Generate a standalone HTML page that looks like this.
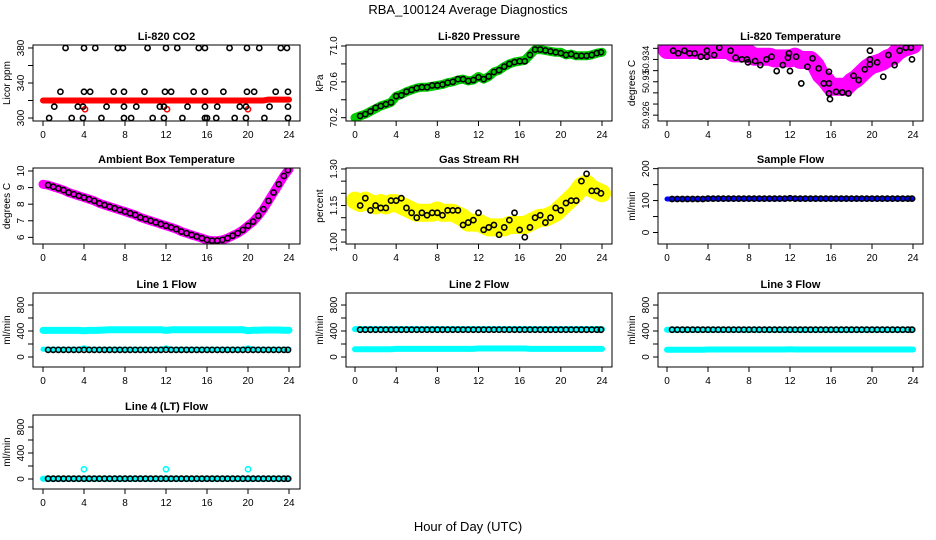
<!DOCTYPE html>
<html><head><meta charset="utf-8">
<style>
html,body{margin:0;padding:0;background:#fff;}
svg{display:block;font-family:"Liberation Sans",Arial,sans-serif;}
</style></head>
<body>
<svg id="chart" width="936" height="540" viewBox="0 0 936 540" xmlns="http://www.w3.org/2000/svg">
<text x="468" y="14" text-anchor="middle" font-size="13">RBA_100124  Average Diagnostics</text>
<text x="468" y="531" text-anchor="middle" font-size="13">Hour of Day (UTC)</text>
</svg>
<script>
// ---- data ----
const hoursBlack = [0.5,1,1.5,2,2.5,3,3.5,4,4.5,5,5.5,6,6.5,7,7.5,8,8.5,9,9.5,10,10.5,11,11.5,12,12.5,13,13.5,14,14.5,15,15.5,16,16.5,17,17.5,18,18.5,19,19.5,20,20.5,21,21.5,22,22.5,23,23.5,23.9];
const hoursBand = [0,0.5,1,1.5,2,2.5,3,3.5,4,4.5,5,5.5,6,6.5,7,7.5,8,8.5,9,9.5,10,10.5,11,11.5,12,12.5,13,13.5,14,14.5,15,15.5,16,16.5,17,17.5,18,18.5,19,19.5,20,20.5,21,21.5,22,22.5,23,23.5,24];
const xTicks = [0,4,8,12,16,20,24];

const co2BlackT = [2.2,4,5.1,7.3,7.8,10.2,12,13.1,15.2,15.8,18.2,19.9,21.1,23.2,23.8, 1.7,4,4.6,6.9,7.9,9.9,11.9,12.5,14.7,15.8,17.6,19.9,20.6,22.7,23.9, 1.1,3.4,3.9,6.2,7.9,9.1,11.4,11.8,14.1,15.8,17,19.2,19.8,22.1,23.9, 0.6,2.8,3.9,5.7,7.9,8.6,10.7,11.8,13.6,15.8,16,16.9,18.7,19.8,21.6,23.9];
const co2BlackV = [380,380,380,380,380,380,380,380,380,380,380,380,380,380,380, 330,330,330,330,330,330,330,330,330,330,330,330,330,330,330, 313,313,313,313,313,313,313,313,313,313,313,313,313,313,313, 300,300,300,300,300,300,300,300,300,300,300,300,300,300,300,300];
const co2Band = [320,320,320,320,320,320,320,320,320,320,320,320,320,320,320,320,320,320,320,320,320,320,320,320,320,320,320,320,320,320,320,320,320,320,320,320,320,320,320,320,320,320,320,320,321,321,321,321,321];
const co2RedOutT = [4.1,12.1,20];
const co2RedOutV = [310,310,310];

const presBlack = [70.22,70.24,70.27,70.31,70.33,70.35,70.37,70.44,70.45,70.49,70.51,70.53,70.54,70.54,70.56,70.56,70.57,70.59,70.60,70.63,70.63,70.61,70.62,70.65,70.63,70.66,70.71,70.73,70.77,70.80,70.82,70.83,70.83,70.90,70.96,70.96,70.95,70.94,70.93,70.92,70.90,70.91,70.89,70.89,70.89,70.90,70.92,70.93];
const presBand = [70.20,70.22,70.24,70.27,70.30,70.33,70.35,70.37,70.44,70.46,70.49,70.51,70.53,70.54,70.54,70.55,70.56,70.57,70.59,70.60,70.62,70.63,70.61,70.62,70.66,70.63,70.66,70.71,70.73,70.77,70.80,70.82,70.83,70.84,70.90,70.96,70.96,70.95,70.94,70.93,70.93,70.90,70.91,70.89,70.89,70.89,70.90,70.92,70.93];

const tempBlackT = [0.6,1.1,1.7,2.2,2.7,3.3,3.9,3.9,4.6,5.1,6.2,6.7,7.3,7.8,7.9,8.6,9.1,9.7,10.2,10.7,11.3,11.8,11.9,12,12.6,13.1,13.7,14.2,14.8,15.3,15.8,15.8,15.8,15.9,16.5,17.1,17.7,18.2,18.7,19.3,19.8,19.8,19.8,20.5,21.1,21.6,22.2,22.7,23.3,23.8,23.9];
const tempBlack = [50.93372,50.9334,50.93372,50.9334,50.9334,50.9330,50.93372,50.9330,50.9332,50.93408,50.93372,50.93288,50.93268,50.93268,50.93232,50.93248,50.932,50.93268,50.9330,50.93128,50.932,50.93288,50.9334,50.93128,50.9330,50.9298,50.9318,50.9328,50.9316,50.9298,50.9298,50.9286,50.9312,50.92792,50.9288,50.92872,50.9286,50.93072,50.9302,50.93148,50.93208,50.93372,50.93268,50.93232,50.9306,50.9332,50.932,50.93372,50.93408,50.93408,50.93268];
const tempBand = [50.9338,50.9338,50.9338,50.9338,50.9338,50.9338,50.9338,50.9338,50.9338,50.9338,50.9338,50.9338,50.9338,50.9334,50.9334,50.9334,50.9334,50.9330,50.9330,50.9330,50.9330,50.9328,50.9328,50.9328,50.9328,50.9330,50.9326,50.9326,50.9326,50.9320,50.9308,50.9302,50.9294,50.9294,50.9294,50.9294,50.9300,50.9304,50.9310,50.9316,50.9320,50.9322,50.9324,50.9328,50.9330,50.9336,50.9340,50.9342,50.9344];

const ambBlack = [9.15,9.05,8.95,8.85,8.7,8.6,8.5,8.4,8.3,8.2,8.05,7.95,7.85,7.75,7.65,7.55,7.45,7.35,7.2,7.1,7.0,6.9,6.8,6.7,6.6,6.5,6.35,6.25,6.15,6.05,5.95,5.85,5.8,5.8,5.85,5.95,6.1,6.25,6.45,6.7,6.95,7.3,7.7,8.2,8.7,9.2,9.7,10.05];
const ambBand = [9.2,9.15,9.05,8.95,8.85,8.7,8.6,8.5,8.4,8.3,8.2,8.05,7.95,7.85,7.75,7.65,7.55,7.45,7.35,7.2,7.1,7.0,6.9,6.8,6.7,6.6,6.5,6.35,6.25,6.15,6.05,5.95,5.85,5.8,5.8,5.85,5.95,6.1,6.25,6.45,6.7,6.95,7.3,7.7,8.2,8.7,9.2,9.7,10.1];

const rhBlack = [1.15,1.18,1.13,1.15,1.14,1.14,1.17,1.17,1.18,1.14,1.12,1.10,1.12,1.11,1.12,1.12,1.11,1.13,1.13,1.13,1.07,1.08,1.09,1.12,1.05,1.06,1.07,1.03,1.06,1.09,1.12,1.05,1.02,1.06,1.10,1.11,1.08,1.10,1.14,1.13,1.16,1.17,1.17,1.25,1.28,1.21,1.21,1.20];
const rhBand = [1.17,1.16,1.17,1.16,1.15,1.16,1.15,1.16,1.16,1.15,1.14,1.13,1.12,1.12,1.12,1.12,1.13,1.12,1.12,1.12,1.11,1.10,1.08,1.08,1.08,1.07,1.06,1.06,1.06,1.06,1.07,1.07,1.07,1.07,1.08,1.09,1.10,1.10,1.11,1.12,1.14,1.16,1.18,1.20,1.23,1.24,1.22,1.21,1.20];

const sfBlack = [105,105,105,105,105,105,105,106,106,106,106,106,106,106,106,106,106,106,106,106,106,106,106,107,106,106,106,106,106,106,106,106,106,106,106,106,106,106,106,106,106,106,106,106,106,106,106,106];
const sfBand = [105,105,105,105,105,105,105,105,106,106,106,106,106,106,106,106,106,106,106,106,106,106,106,106,107,106,106,106,106,106,106,106,106,106,106,106,106,106,106,106,106,106,106,106,106,106,106,106,106];

const l1Black = [110,110,110,110,110,110,110,110,110,110,110,110,110,110,110,110,110,110,110,110,110,110,110,112,110,110,110,110,110,110,110,110,110,110,110,110,110,110,110,110,110,110,110,110,110,110,110,110];
const l1BandHigh = [410,410,410,410,410,410,410,410,405,410,410,412,415,418,420,420,418,418,418,418,418,418,418,418,410,418,418,418,418,418,418,418,418,418,418,418,418,418,418,418,405,412,412,415,415,415,415,412,412];
const l1BandLow = [120,120,120,120,120,120,120,120,140,120,120,120,120,120,120,120,120,120,120,120,120,120,120,120,140,120,120,120,120,120,120,120,120,120,120,120,120,120,120,120,140,120,120,120,120,120,120,120,120];

const l2Black = [420,420,420,420,420,420,420,420,420,420,420,420,420,420,420,420,420,420,420,420,420,420,420,420,420,420,420,420,420,420,420,420,420,420,420,420,420,420,420,420,420,420,420,420,420,420,420,420];
const l2BandHigh = [430,430,430,430,430,430,430,430,430,430,430,430,430,430,430,430,430,430,430,430,430,430,430,430,430,430,430,430,430,430,430,430,430,430,430,430,430,430,430,430,430,430,430,430,430,430,430,430,430];
const l2BandLow = [120,120,120,120,120,120,120,120,125,125,125,125,125,125,125,125,125,125,125,125,125,125,125,125,130,130,130,130,130,130,130,130,130,130,125,125,125,125,125,125,125,125,125,125,125,125,125,125,125];

const l3Black = [420,420,420,420,420,420,420,420,420,420,420,420,420,420,420,420,420,420,420,420,420,420,420,420,420,420,420,420,420,420,420,420,420,420,420,420,420,420,420,420,420,420,420,420,420,420,420,420];
const l3BandHigh = [420,420,420,420,420,420,420,420,420,420,420,420,420,420,420,420,420,420,420,420,420,420,420,420,420,420,420,420,420,420,420,420,420,420,420,420,420,420,420,420,420,420,420,420,420,420,420,420,420];
const l3BandLow = [110,110,110,110,110,110,110,110,115,115,115,115,115,115,115,115,115,115,115,115,115,115,115,115,120,115,115,115,115,115,115,115,115,115,115,115,115,115,115,115,115,115,115,115,115,115,115,115,115];

const l4Black = [5,5,5,5,5,5,5,5,5,5,5,5,5,5,5,5,5,5,5,5,5,5,5,5,5,5,5,5,5,5,5,5,5,5,5,5,5,5,5,5,5,5,5,5,5,5,5,5];
const l4Band = [5,5,5,5,5,5,5,5,5,5,5,5,5,5,5,5,5,5,5,5,5,5,5,5,5,5,5,5,5,5,5,5,5,5,5,5,5,5,5,5,5,5,5,5,5,5,5,5,5];
const l4SpikeT = [4,12,20];
const l4SpikeV = [150,150,150];

const flowTicks = [0,200,400,600,800];
const flowLabels = ['0','','400','','800'];

// ---- drawing ----
const svg = document.getElementById('chart');
const NS = 'http://www.w3.org/2000/svg';
const cols = [{bx0:33,bx1:300,x0:43,x1:289},{bx0:346,bx1:612,x0:355,x1:602},{bx0:658,bx1:923,x0:667,x1:913}];
const rows = [{top:45,bot:121},{top:168,bot:244},{top:293,bot:367},{top:415,bot:489}];

function mk(tag, attrs, parent){
  const e = document.createElementNS(NS, tag);
  for (const k in attrs) e.setAttribute(k, attrs[k]);
  (parent||svg).appendChild(e);
  return e;
}

function panel(name, ci, ri, title, ylab, dmin, dmax, yticks, ylabels, yfs){
  const c = cols[ci], r = rows[ri];
  const g = mk('g', {});
  
  
  const sx = t => c.x0 + (t/24)*(c.x1-c.x0);
  const sy = v => r.bot - (v-dmin)/(dmax-dmin)*(r.bot-r.top);
  const t = mk('text', {x:(c.bx0+c.bx1)/2, y:r.top-5, 'text-anchor':'middle', 'font-size':'11', 'font-weight':'bold'}, g);
  t.textContent = title;
  
  
  const xa = mk('g', {}, g);
  
  
  xTicks.forEach(v => {
    mk('line', {x1:sx(v), x2:sx(v), y1:r.bot, y2:r.bot+5, stroke:'#000'}, xa);
    const tl = mk('text', {x:sx(v), y:r.bot+17, 'text-anchor':'middle', 'font-size':'10'}, xa);
    tl.textContent = v;
  });
  const ya = mk('g', {}, g);
  
  
  yticks.forEach((v,i) => {
    const y = sy(v);
    mk('line', {x1:c.bx0, x2:c.bx0-5, y1:y, y2:y, stroke:'#000'}, ya);
    if (ylabels[i]) {
      const tl = mk('text', {x:c.bx0-9, y:y, 'text-anchor':'middle', 'font-size':yfs||'10', transform:`rotate(-90 ${c.bx0-9} ${y})`}, ya);
      tl.textContent = ylabels[i];
    }
  });
  const yl = mk('text', {x:c.bx0-23, y:(r.top+r.bot)/2, 'text-anchor':'middle', 'font-size':'10', transform:`rotate(-90 ${c.bx0-23} ${(r.top+r.bot)/2})`}, g);
  yl.textContent = ylab;
  
  
  const clip = 'clip-' + name;
  const cp = mk('clipPath', {id:clip}, g);
  mk('rect', {x:c.bx0, y:r.top, width:c.bx1-c.bx0, height:r.bot-r.top}, cp);
  const plot = mk('g', {'clip-path':`url(#${clip})`}, g);
  const box = mk('rect', {x:c.bx0, y:r.top, width:c.bx1-c.bx0, height:r.bot-r.top, fill:'none', stroke:'#000', 'stroke-width':'1'}, g);
  
  
  return {sx, sy, g:plot, name};
}

function band(p, ts, vs, color, w, label){
  const pts = ts.map((t,i) => `${p.sx(t).toFixed(1)},${p.sy(vs[i]).toFixed(1)}`).join(' ');
  const pl = mk('polyline', {points:pts, fill:'none', stroke:color, 'stroke-width':w, 'stroke-linejoin':'round', 'stroke-linecap':'round'}, p.g);
  
  
}
function dots(p, ts, vs, color, label){
  ts.forEach((t,i) => {
    const c = mk('circle', {cx:p.sx(t), cy:p.sy(vs[i]), r:2.6, fill:'none', stroke:color, 'stroke-width':'1.6'}, p.g);
    
    
  });
}

let p;
p = panel('co2', 0, 0, 'Li-820 CO2', 'Licor ppm', 296.6, 383.4, [300,320,340,360,380], ['300','','340','','380']);
band(p, hoursBand, co2Band, '#ff0000', 6, 'red-band');
dots(p, co2RedOutT, co2RedOutV, '#ff0000', 'red-point');
dots(p, co2BlackT, co2BlackV, '#000', 'mean-point');

p = panel('pressure', 1, 0, 'Li-820 Pressure', 'kPa', 70.163, 71.011, [70.2,70.4,70.6,70.8,71.0], ['70.2','','70.6','','71.0']);
band(p, hoursBand, presBand, '#00cc00', 9, 'green-band');
dots(p, hoursBlack, presBlack, '#000', 'mean-point');

p = panel('temperature', 2, 0, 'Li-820 Temperature', 'degrees C', 50.9253, 50.9344, [50.926,50.92733,50.92867,50.930,50.93133,50.93267,50.934], ['50.926','','','50.93','','50.934',''], '9');
band(p, hoursBand, tempBand, '#ff00ff', 18, 'magenta-band');
dots(p, tempBlackT, tempBlack, '#000', 'mean-point');

p = panel('ambient', 0, 1, 'Ambient Box Temperature', 'degrees C', 5.6, 10.18, [6,7,8,9,10], ['6','7','8','9','10']);
band(p, hoursBand, ambBand, '#ff00ff', 9, 'magenta-band');
dots(p, hoursBlack, ambBlack, '#000', 'mean-point');

p = panel('gas-rh', 1, 1, 'Gas Stream RH', 'percent', 0.992, 1.304, [1.00,1.05,1.10,1.15,1.20,1.25,1.30], ['1.00','','','1.15','','','1.30']);
band(p, hoursBand, rhBand, '#ffff00', 18, 'yellow-band');
dots(p, hoursBlack, rhBlack, '#000', 'mean-point');

p = panel('sample-flow', 2, 1, 'Sample Flow', 'ml/min', -36, 202, [0,50,100,150,200], ['0','','100','','200']);
band(p, hoursBand, sfBand, '#0000ff', 5, 'blue-band');
dots(p, hoursBlack, sfBlack, '#000', 'mean-point');

p = panel('line1-flow', 0, 2, 'Line 1 Flow', 'ml/min', -154, 985, flowTicks, flowLabels);
band(p, hoursBand, l1BandHigh, '#00ffff', 7, 'cyan-band-high');
band(p, hoursBand, l1BandLow, '#00ffff', 5, 'cyan-band-low');
dots(p, hoursBlack, l1Black, '#000', 'mean-point');

p = panel('line2-flow', 1, 2, 'Line 2 Flow', 'ml/min', -154, 985, flowTicks, flowLabels);
band(p, hoursBand, l2BandHigh, '#00ffff', 6, 'cyan-band-high');
band(p, hoursBand, l2BandLow, '#00ffff', 6, 'cyan-band-low');
dots(p, hoursBlack, l2Black, '#000', 'mean-point');

p = panel('line3-flow', 2, 2, 'Line 3 Flow', 'ml/min', -154, 985, flowTicks, flowLabels);
band(p, hoursBand, l3BandHigh, '#00ffff', 6, 'cyan-band-high');
band(p, hoursBand, l3BandLow, '#00ffff', 6, 'cyan-band-low');
dots(p, hoursBlack, l3Black, '#000', 'mean-point');

p = panel('line4-flow', 0, 3, 'Line 4 (LT) Flow', 'ml/min', -154, 985, flowTicks, flowLabels);
band(p, hoursBand, l4Band, '#00ffff', 6, 'cyan-band');
dots(p, l4SpikeT, l4SpikeV, '#00ffff', 'cyan-spike');
dots(p, hoursBlack, l4Black, '#000', 'mean-point');
</script>
</body></html>
